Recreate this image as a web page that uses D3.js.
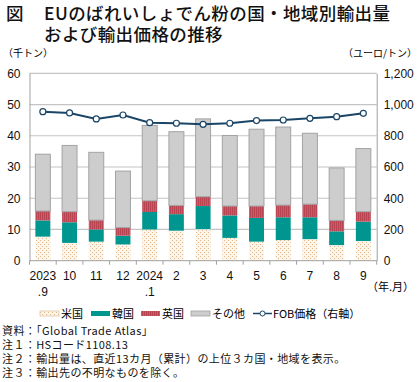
<!DOCTYPE html>
<html>
<head>
<meta charset="utf-8">
<script src="https://cdn.jsdelivr.net/npm/d3@7"></script>
<style>
body { margin: 0; background: #fff; }
svg { display: block; font-family: "Liberation Sans", "Noto Sans CJK JP", sans-serif; }
.jp { font-family: "Noto Sans CJK JP", sans-serif; }
</style>
</head>
<body>
<svg width="420" height="382"></svg>
<script>
// data
var months = ["2023\n.9", "10", "11", "12", "2024\n.1", "2", "3", "4", "5", "6", "7", "8", "9"];
var usa    = [7.7, 5.7, 6.1, 5.2, 10.0, 9.6, 10.1, 7.3, 6.1, 6.6, 6.9, 5.0, 6.3];
var korea  = [5.2, 6.6, 3.9, 2.8, 5.6, 5.3, 7.4, 7.2, 7.6, 7.3, 7.0, 4.4, 6.2];
var uk     = [3.0, 3.4, 3.0, 2.6, 3.6, 2.8, 3.0, 3.0, 3.8, 3.9, 4.2, 3.5, 3.2];
var other  = [18.2, 21.2, 21.7, 18.1, 24.1, 23.6, 24.9, 22.6, 24.6, 25.0, 22.7, 16.8, 20.2];
var fob    = [954, 946, 908, 933, 884, 880, 873, 880, 897, 901, 912, 922, 944];
var leftTicks  = [0, 10, 20, 30, 40, 50, 60];
var rightTicks = [0, 200, 400, 600, 800, 1000, 1200];

var svg = d3.select("svg");
var x0 = 29.5, x1 = 376.7, yTop = 73.3, yBot = 260.7;

var defs = svg.append("defs");
// dotted pattern for US
var pUs = defs.append("pattern").attr("id", "pUs").attr("patternUnits", "userSpaceOnUse")
  .attr("width", 4).attr("height", 4);
pUs.append("rect").attr("width", 4).attr("height", 4).attr("fill", "#fdf5ea");
pUs.append("rect").attr("x", 0).attr("y", 0).attr("width", 1).attr("height", 1).attr("fill", "#dfb98c");
pUs.append("rect").attr("x", 2).attr("y", 2).attr("width", 1).attr("height", 1).attr("fill", "#dfb98c");
// striped pattern for UK
var pUk = defs.append("pattern").attr("id", "pUk").attr("patternUnits", "userSpaceOnUse")
  .attr("width", 2).attr("height", 2);
pUk.append("rect").attr("width", 2).attr("height", 2).attr("fill", "#cb5a6c");
pUk.append("rect").attr("width", 1).attr("height", 2).attr("fill", "#b94553");

// title
var title = svg.append("g").attr("class", "jp").attr("font-size", 17.5)
  .attr("font-weight", 500).attr("fill", "#111");
title.append("text").attr("x", 6).attr("y", 20).text("図");
title.append("text").attr("x", 44).attr("y", 20).attr("letter-spacing", 0.4)
  .text("EUのばれいしょでん粉の国・地域別輸出量");
title.append("text").attr("x", 44).attr("y", 41).attr("letter-spacing", 0.4)
  .text("および輸出価格の推移");

// units
svg.append("text").attr("class", "jp").attr("x", 3).attr("y", 57).attr("font-size", 10).text("（千トン）");
svg.append("text").attr("class", "jp").attr("x", 417).attr("y", 57).attr("font-size", 10)
  .attr("text-anchor", "end").text("（ユーロ/トン）");

var x = d3.scaleBand().domain(d3.range(months.length)).range([x0, x1]).paddingInner(0.44).paddingOuter(0.22);
var y = d3.scaleLinear().domain([0, 60]).range([yBot, yTop]);
var y2 = d3.scaleLinear().domain([0, 1200]).range([yBot, yTop]);

// gridlines
svg.append("g").selectAll("line").data(leftTicks.filter(function(d) { return d > 0; }))
  .enter().append("line")
  .attr("x1", x0).attr("x2", x1)
  .attr("y1", function(d) { return y(d); }).attr("y2", function(d) { return y(d); })
  .attr("stroke", "#c4c4c4").attr("stroke-width", 1.2);

// axes
var gl = svg.append("g").attr("transform", "translate(" + x0 + ",0)")
  .call(d3.axisLeft(y).tickValues(leftTicks).tickSize(0).tickPadding(9));
gl.select(".domain").attr("stroke", "#a0a0a0");
gl.selectAll("text").attr("font-size", 12).attr("fill", "#111").attr("font-family", "Liberation Sans");

var gr = svg.append("g").attr("transform", "translate(" + x1 + ",0)")
  .call(d3.axisRight(y2).tickValues(rightTicks).tickSize(0).tickPadding(7).tickFormat(d3.format(",")));
gr.select(".domain").attr("stroke", "#a0a0a0");
gr.selectAll("text").attr("font-size", 12).attr("fill", "#111").attr("font-family", "Liberation Sans");

// stacked bars
var table = months.map(function(m, i) {
  return { i: i, usa: usa[i], korea: korea[i], uk: uk[i], other: other[i] };
});
var keys = ["usa", "korea", "uk", "other"];
var fills = { usa: "url(#pUs)", korea: "#009690", uk: "url(#pUk)", other: "#cdcdcd" };
var stack = d3.stack().keys(keys)(table);

svg.append("g").selectAll("g").data(stack).enter().append("g")
  .attr("fill", function(s) { return fills[s.key]; })
  .attr("stroke", function(s) { return s.key == "other" ? "#a3a3a3" : "none"; })
  .selectAll("rect").data(function(s) { return s; })
  .enter().append("rect")
  .attr("x", function(d) { return x(d.data.i); })
  .attr("width", x.bandwidth())
  .attr("y", function(d) { return y(d[1]); })
  .attr("height", function(d) { return y(d[0]) - y(d[1]); });

// x axis baseline and ticks between categories
svg.append("line").attr("x1", x0).attr("x2", x1).attr("y1", yBot).attr("y2", yBot)
  .attr("stroke", "#a0a0a0");
svg.append("g").selectAll("line").data(d3.range(months.length + 1)).enter().append("line")
  .attr("x1", function(i) { return x0 + i * (x1 - x0) / months.length; })
  .attr("x2", function(i) { return x0 + i * (x1 - x0) / months.length; })
  .attr("y1", yBot).attr("y2", yBot + 4).attr("stroke", "#a0a0a0");

// x labels
var xl = svg.append("g").selectAll("text").data(months).enter().append("text")
  .attr("x", function(d, i) { return x(i) + x.bandwidth() / 2; })
  .attr("y", 280).attr("text-anchor", "middle").attr("font-size", 12).attr("fill", "#111");
xl.each(function(d) {
  var parts = d.split("\n");
  var t = d3.select(this);
  parts.forEach(function(p, k) {
    t.append("tspan").attr("x", t.attr("x")).attr("dy", k == 0 ? 0 : 16).text(p);
  });
});
svg.append("text").attr("class", "jp").attr("x", 414).attr("y", 291).attr("font-size", 11)
  .attr("text-anchor", "end").text("（年.月）");

// FOB line
var line = d3.line()
  .x(function(d, i) { return x(i) + x.bandwidth() / 2; })
  .y(function(d) { return y2(d); });
svg.append("path").datum(fob).attr("d", line).attr("fill", "none")
  .attr("stroke", "#1b4566").attr("stroke-width", 2);
svg.append("g").selectAll("circle").data(fob).enter().append("circle")
  .attr("cx", function(d, i) { return x(i) + x.bandwidth() / 2; })
  .attr("cy", function(d) { return y2(d); })
  .attr("r", 3).attr("fill", "#fff").attr("stroke", "#1b4566").attr("stroke-width", 1.2);

// legend
var legend = [
  { label: "米国", fill: "url(#pUs)", x: 40 },
  { label: "韓国", fill: "#009690", x: 91 },
  { label: "英国", fill: "url(#pUk)", x: 141 },
  { label: "その他", fill: "#cdcdcd", x: 191 }
];
var lg = svg.append("g");
legend.forEach(function(l) {
  lg.append("rect").attr("x", l.x).attr("y", 311).attr("width", 19).attr("height", 5)
    .attr("fill", l.fill).attr("stroke", l.label == "米国" ? "#e2c49e" : (l.label == "その他" ? "#a3a3a3" : "none"))
    .attr("stroke-width", 0.8);
  lg.append("text").attr("class", "jp").attr("x", l.x + 21).attr("y", 318).attr("font-size", 11).text(l.label);
});
lg.append("line").attr("x1", 253).attr("x2", 272).attr("y1", 313.5).attr("y2", 313.5)
  .attr("stroke", "#1b4566").attr("stroke-width", 1.5);
lg.append("circle").attr("cx", 262.5).attr("cy", 313.5).attr("r", 2.5)
  .attr("fill", "#fff").attr("stroke", "#1b4566");
lg.append("text").attr("class", "jp").attr("x", 273).attr("y", 318).attr("font-size", 11).text("FOB価格（右軸）");

// notes
var notes = [
  "資料：「Global Trade Atlas」",
  "注１：HSコード1108.13",
  "注２：輸出量は、直近13カ月（累計）の上位３カ国・地域を表示。",
  "注３：輸出先の不明なものを除く。"
];
svg.append("g").selectAll("text").data(notes).enter().append("text")
  .attr("class", "jp").attr("x", 2).attr("y", function(d, i) { return 335 + i * 14; })
  .attr("font-size", 11).attr("letter-spacing", 0.4).attr("fill", "#111").text(function(d) { return d; });
</script>
</body>
</html>
